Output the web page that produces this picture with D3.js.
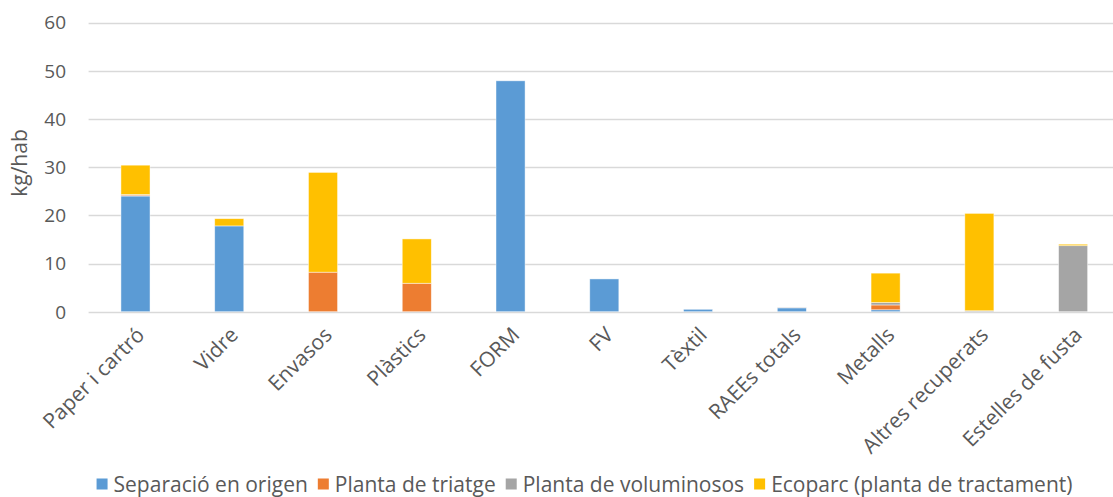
<!DOCTYPE html>
<html>
<head>
<meta charset="utf-8">
<script src="https://cdn.jsdelivr.net/npm/d3@7"></script>
<style>
  body { margin: 0; background: #fff; }
  text { font-family: "Open Sans", sans-serif; fill: #595959; }
</style>
</head>
<body>
<div id="chart"></div>
<script>
// Data (kg/hab)
const categories = ["Paper i cartró", "Vidre", "Envasos", "Plàstics", "FORM", "FV",
  "Tèxtil", "RAEEs totals", "Metalls", "Altres recuperats", "Estelles de fusta"];
const seriesNames = ["Separació en origen", "Planta de triatge", "Planta de voluminosos",
  "Ecoparc (planta de tractament)"];
const separacio = [24.0, 17.8, 0, 0, 47.9, 6.8, 0.5, 0.8, 0.4, 0, 0];
const triatge = [0.2, 0, 8.2, 5.9, 0, 0, 0, 0, 1.0, 0, 0];
const voluminosos = [0.1, 0, 0, 0, 0, 0, 0, 0.1, 0.5, 0.2, 13.7];
const ecoparc = [6.1, 1.5, 20.7, 9.2, 0, 0, 0, 0, 6.1, 20.2, 0.3];
const yTicks = [0, 10, 20, 30, 40, 50, 60];
const colors = ["#5B9BD5", "#ED7D31", "#A5A5A5", "#FFC000"];

const W = 1113, H = 497;
const svg = d3.select("#chart").append("svg")
    .attr("width", W)
    .attr("height", H);

// Scales
const x = d3.scaleBand().domain(categories).range([88.6, 1120])
    .paddingInner(0.69).paddingOuter(0.345);
const y = d3.scaleLinear().domain([0, 60]).range([311.7, 22.5]);

// Gridlines
svg.append("g")
  .selectAll("line")
  .data(yTicks)
  .join("line")
    .attr("x1", 88.6)
    .attr("x2", W)
    .attr("y1", d => Math.round(y(d)) + 0.5)
    .attr("y2", d => Math.round(y(d)) + 0.5)
    .attr("stroke", "#D9D9D9")
    .attr("stroke-width", 1.3);

// Y tick labels
svg.append("g")
  .selectAll("text")
  .data(yTicks)
  .join("text")
    .attr("x", 66)
    .attr("y", d => y(d))
    .attr("dy", "0.36em")
    .attr("text-anchor", "end")
    .style("font-size", "19px")
    .text(d => d);

// Y axis title
svg.append("text")
    .attr("transform", "translate(27,163) rotate(-90)")
    .attr("text-anchor", "middle")
    .style("font-size", "21px")
    .text("kg/hab");

// Stacked bars
const rows = categories.map((c, i) => ({
  cat: c, s0: separacio[i], s1: triatge[i], s2: voluminosos[i], s3: ecoparc[i]
}));
const stack = d3.stack().keys(["s0", "s1", "s2", "s3"]);
const layers = stack(rows);

svg.append("g")
  .selectAll("g")
  .data(layers)
  .join("g")
    .attr("fill", (d, i) => colors[i])
  .selectAll("rect")
  .data(d => d.filter(p => p[1] - p[0] > 0))
  .join("rect")
    .attr("x", d => x(d.data.cat))
    .attr("width", x.bandwidth())
    .attr("y", d => y(d[1]))
    .attr("height", d => y(d[0]) - y(d[1]))
    .attr("stroke", "#fff")
    .attr("stroke-opacity", 0.6)
    .attr("stroke-width", 0.75);

// X labels, rotated -45
svg.append("g")
  .selectAll("text")
  .data(categories)
  .join("text")
    .attr("transform", d => `translate(${x(d) + x.bandwidth() / 2 + 5},${331}) rotate(-45)`)
    .attr("text-anchor", "end")
    .attr("dy", "0.35em")
    .style("font-size", "21px")
    .text(d => d);

// Legend
const legend = svg.append("g");
const items = legend.selectAll("g")
  .data(seriesNames)
  .join("g");
items.append("rect")
    .attr("width", 11)
    .attr("height", 11)
    .attr("y", -5.5)
    .attr("fill", (d, i) => colors[i]);
items.append("text")
    .attr("x", 17)
    .attr("dy", "0.36em")
    .style("font-size", "21px")
    .text(d => d);
let pos = 0;
items.each(function() {
  d3.select(this).attr("transform", `translate(${pos},0)`);
  pos += this.getBBox().width + 10;
});
const total = pos - 10;
legend.attr("transform", `translate(${584.5 - total / 2},484)`);
</script>
</body>
</html>
